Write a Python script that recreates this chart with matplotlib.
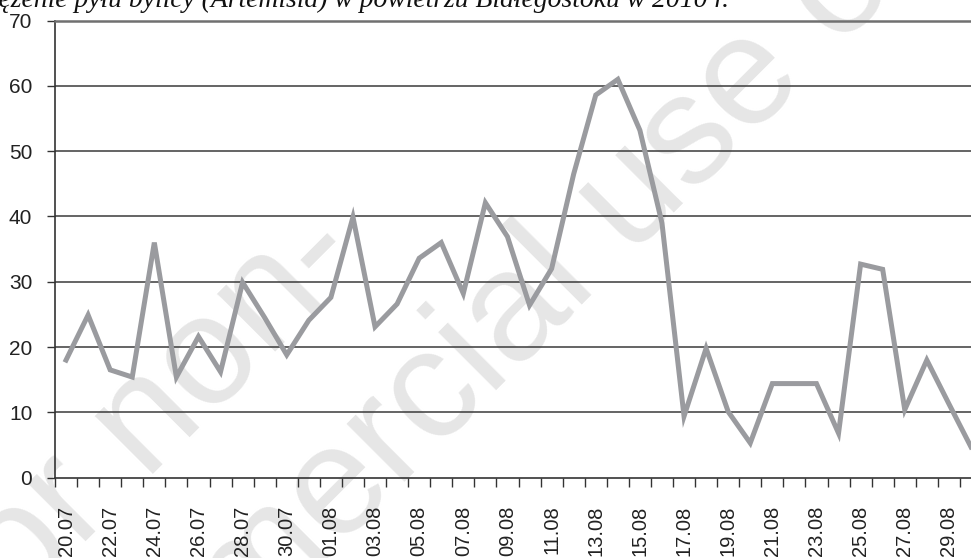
import matplotlib.pyplot as plt
import numpy as np

# daily Artemisia pollen concentration, 20 July - 30 August 2010
days = ["20.07", "21.07", "22.07", "23.07", "24.07", "25.07", "26.07", "27.07",
        "28.07", "29.07", "30.07", "31.07", "01.08", "02.08", "03.08", "04.08",
        "05.08", "06.08", "07.08", "08.08", "09.08", "10.08", "11.08", "12.08",
        "13.08", "14.08", "15.08", "16.08", "17.08", "18.08", "19.08", "20.08",
        "21.08", "22.08", "23.08", "24.08", "25.08", "26.08", "27.08", "28.08",
        "29.08", "30.08"]
pollen = [18.0, 24.9, 16.5, 15.4, 36.0, 15.4, 21.6, 16.2, 29.9, 24.5, 18.8,
          24.1, 27.6, 39.9, 23.1, 26.6, 33.6, 36.0, 28.2, 42.1, 36.9, 26.4,
          32.0, 46.5, 58.6, 61.0, 53.2, 39.0, 9.4, 19.8, 10.1, 5.3, 14.4,
          14.4, 14.4, 6.8, 32.7, 31.9, 10.4, 18.0, 11.3, 4.7]
y_ticks = [0, 10, 20, 30, 40, 50, 60, 70]

title = "Stężenie pyłu bylicy (Artemisia) w powietrzu Białegostoku w 2010 r."

W, H = 971, 558
fig = plt.figure(figsize=(W / 100, H / 100), dpi=100)

# watermark, sits behind the axes
wm = dict(color="#e6e6e6", fontsize=112, family="Liberation Sans",
          rotation=45, rotation_mode="anchor", ha="center", va="center",
          zorder=-1)
fig.text(130 / W, 1 - 440 / H, "For non-", **wm)
fig.text(510 / W, 1 - 320 / H, "commercial use only", **wm)

ax = fig.add_axes([55 / W, 1 - 477.6 / H, 927 / W, 457 / H])
ax.patch.set_alpha(0)

x = np.arange(len(days))
ax.plot(x, pollen, color="#9a9b9f", lw=3.6, solid_joinstyle="miter",
        zorder=3)

ax.set_xlim(-0.5, len(days) - 0.5)
ax.set_ylim(0, 70)

ax.set_yticks(y_ticks)
ax.set_yticklabels([str(v) for v in y_ticks], family="Liberation Sans",
                   fontsize=15, color="#222222")
ax.tick_params(axis="y", length=5.8, width=1, color="#333333", pad=10.5)
for v in y_ticks[1:-1]:
    ax.axhline(v, color="#3a3a3a", lw=1.1, zorder=1)

ax.set_xticks(x)
ax.set_xticklabels([d if i % 2 == 0 else "" for i, d in enumerate(days)],
                   rotation=90, family="Liberation Sans", fontsize=14.5,
                   color="#222222")
ax.tick_params(axis="x", which="major", length=0, pad=20)
ax.set_xticks(np.arange(-0.5, len(days)), minor=True)
ax.tick_params(axis="x", which="minor", length=6.5, width=1, color="#333333")

for side in ["left", "bottom"]:
    ax.spines[side].set_color("#333333")
    ax.spines[side].set_linewidth(1.2)
ax.spines["top"].set_color("#707070")
ax.spines["top"].set_linewidth(1.8)
ax.spines["right"].set_visible(False)

fig.text(729 / W, 1 - 7 / H, title, ha="right", va="baseline",
         family="Liberation Serif", style="italic", fontsize=19.9,
         color="#111111")

fig.savefig("out.png", dpi=100)
